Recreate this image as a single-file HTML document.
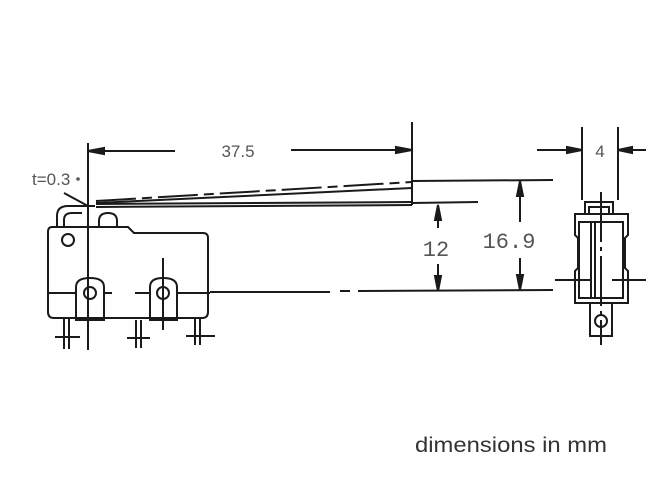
<!DOCTYPE html>
<html><head><style>body{margin:0;background:#fff}svg{display:block}</style></head><body>
<svg width="650" height="487" viewBox="0 0 650 487" xmlns="http://www.w3.org/2000/svg" fill="none" stroke="#1a1a1a" stroke-width="2" font-family="Liberation Sans, sans-serif">
<!-- 37.5 dim -->
<line x1="88" y1="143" x2="88" y2="350"/>
<line x1="412" y1="122" x2="412" y2="205"/>
<line x1="88" y1="151" x2="175" y2="151"/>
<line x1="291" y1="150" x2="412" y2="150"/>
<polygon points="88,151 104,148 104,154" fill="#1a1a1a"/>
<polygon points="412,150 396,147 396,153" fill="#1a1a1a"/>
<text x="238" y="157" font-size="17" fill="#555" stroke="none" text-anchor="middle">37.5</text>
<!-- t=0.3 -->
<text x="32" y="185" font-size="17" fill="#555" stroke="none">t=0.3</text>
<circle cx="78" cy="179" r="1.8" fill="#555" stroke="none"/>
<line x1="64" y1="193" x2="88" y2="206"/>
<!-- lever -->
<line x1="96" y1="201" x2="412" y2="182" stroke-dasharray="40 6 10 6"/>
<line x1="96" y1="203" x2="412" y2="188"/>
<line x1="96" y1="204" x2="412" y2="202"/>
<line x1="96" y1="207" x2="412" y2="205"/>
<line x1="412" y1="181" x2="553" y2="180"/>
<line x1="412" y1="203" x2="478" y2="202"/>
<line x1="210" y1="292" x2="330" y2="292"/><line x1="340" y1="291" x2="350" y2="291"/><line x1="358" y1="291" x2="553" y2="290"/>
<!-- 12 -->
<line x1="438" y1="205" x2="438" y2="228"/><line x1="438" y1="264" x2="438" y2="291"/>
<polygon points="438,205 435,220 441,220" fill="#1a1a1a"/>
<polygon points="438,291 435,276 441,276" fill="#1a1a1a"/>
<text x="436" y="256" font-size="22" fill="#555" stroke="none" text-anchor="middle" font-family="Liberation Mono, monospace">12</text>
<!-- 16.9 -->
<line x1="520" y1="181" x2="520" y2="222"/><line x1="520" y1="258" x2="520" y2="290"/>
<polygon points="520,181 517,196 523,196" fill="#1a1a1a"/>
<polygon points="520,290 517,275 523,275" fill="#1a1a1a"/>
<text x="509" y="248" font-size="22" fill="#555" stroke="none" text-anchor="middle" font-family="Liberation Mono, monospace">16.9</text>
<!-- switch body -->
<path d="M52,227 H128 L134,233 H203 Q208,233 208,238 V312 Q208,318 202,318 H54 Q48,318 48,312 V232 Q48,227 52,227 Z"/>
<circle cx="68" cy="240" r="6"/>
<path d="M57,227 V216 Q57,206 68,206 H95"/>
<path d="M64,227 V220 Q64,213 72,213 H82"/>
<path d="M99,227 V221 Q99,213 108,213 Q117,213 117,221 V227"/>
<path d="M76,320 V287 Q76,278 90,278 Q104,278 104,287 V320 Z"/>
<circle cx="90" cy="293" r="6"/>
<path d="M150,320 V287 Q150,278 163,278 Q177,278 177,287 V320 Z"/>
<circle cx="163" cy="293" r="6"/>
<line x1="163" y1="258" x2="163" y2="330"/>
<line x1="48" y1="293" x2="76" y2="293"/><line x1="104" y1="293" x2="112" y2="293"/>
<line x1="135" y1="293" x2="150" y2="293"/><line x1="177" y1="293" x2="210" y2="293"/>
<!-- pins -->
<line x1="64" y1="318" x2="64" y2="349"/><line x1="69" y1="318" x2="69" y2="349"/><line x1="55" y1="337" x2="80" y2="337"/>
<line x1="136" y1="320" x2="136" y2="348"/><line x1="141" y1="320" x2="141" y2="348"/><line x1="127" y1="338" x2="150" y2="338"/>
<line x1="195" y1="318" x2="195" y2="345"/><line x1="200" y1="318" x2="200" y2="345"/><line x1="186" y1="336" x2="215" y2="336"/>
<!-- right view -->
<line x1="582" y1="127" x2="582" y2="200"/>
<line x1="618" y1="127" x2="618" y2="200"/>
<line x1="537" y1="150" x2="582" y2="150"/>
<line x1="618" y1="150" x2="646" y2="150"/>
<polygon points="582,150 567,147 567,153" fill="#1a1a1a"/>
<polygon points="618,150 632,147 632,153" fill="#1a1a1a"/>
<text x="600" y="157" font-size="17" fill="#555" stroke="none" text-anchor="middle">4</text>
<path d="M585,214 V202 H613 V214"/><path d="M589,214 V207 H609 V214"/>
<path d="M575,214 H628 V235 L625,238 V268 L628,271 V303 H575 V271 L578,268 V238 L575,235 Z"/>
<rect x="579" y="222" width="44" height="76"/>
<line x1="591" y1="222" x2="591" y2="298"/><line x1="595" y1="222" x2="595" y2="298"/>
<path d="M590,303 V336 H612 V303"/>
<circle cx="601" cy="321" r="6"/>
<line x1="601" y1="192" x2="601" y2="345" stroke-dasharray="50 5 4 5"/>
<line x1="555" y1="280" x2="590" y2="280"/><line x1="612" y1="280" x2="646" y2="280"/>
<text x="415" y="452" font-size="21" fill="#333" stroke="none" textLength="192" lengthAdjust="spacingAndGlyphs">dimensions in mm</text>
</svg>
</body></html>
